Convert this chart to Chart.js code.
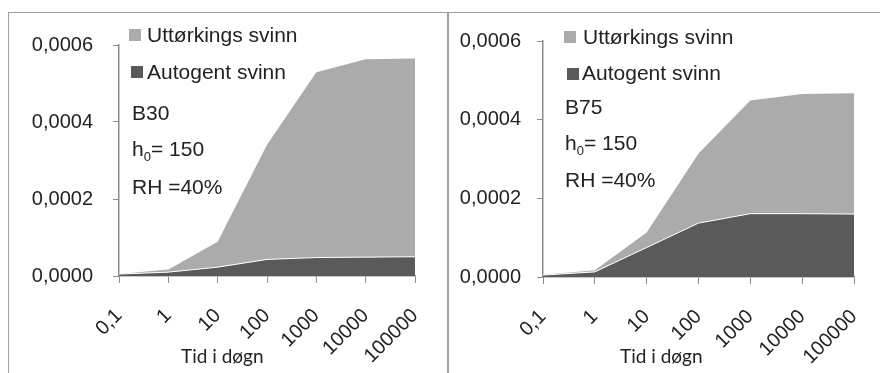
<!DOCTYPE html>
<html>
<head>
<meta charset="utf-8">
<script src="https://cdn.jsdelivr.net/npm/chart.js@4/dist/chart.umd.min.js"></script>
<style>
    body { margin: 0; background: #fff; width: 880px; height: 373px; overflow: hidden; position: relative; font-family: "Liberation Sans", Arial, sans-serif; }
    .panel { position: absolute; top: 12px; height: 361px; border-top: 1px solid #a0a0a0; }
    #panelLeft { left: 8px; width: 440px; border-left: 1px solid #a0a0a0; }
    #panelRight { left: 447px; width: 433px; border-left: 2px solid #a0a0a0; }
    canvas { position: absolute; top: 0; }
    .txt { position: absolute; color: #222; font-size: 21px; line-height: 22px; white-space: nowrap; }
    .sq { position: absolute; width: 12px; height: 12px; }
    .axtitle { position: absolute; font-family: Lato, "Open Sans", sans-serif; font-size: 19px; color: #222; white-space: nowrap; }
</style>
</head>
<body>
<div class="panel" id="panelLeft">
    <canvas id="chartB30" width="438" height="360"></canvas>
</div>
<div class="panel" id="panelRight">
    <canvas id="chartB75" width="431" height="360"></canvas>
</div>

<!-- legend and notes, left -->
<div class="sq" style="left:129px;top:29px;background:#ababab"></div>
<div class="txt" style="left:147px;top:24px">Uttørkings svinn</div>
<div class="sq" style="left:131px;top:66px;background:#5a5a5a"></div>
<div class="txt" style="left:147px;top:61px">Autogent svinn</div>
<div class="txt" style="left:132px;top:102px">B30</div>
<div class="txt" style="left:132px;top:138px">h<sub style="font-size:13px">0</sub>= 150</div>
<div class="txt" style="left:132px;top:176px">RH =40%</div>
<div class="axtitle" style="left:181px;top:344px">Tid i døgn</div>

<!-- legend and notes, right -->
<div class="sq" style="left:564px;top:31px;background:#ababab"></div>
<div class="txt" style="left:583px;top:26px">Uttørkings svinn</div>
<div class="sq" style="left:567px;top:68px;background:#5a5a5a"></div>
<div class="txt" style="left:582px;top:62px">Autogent svinn</div>
<div class="txt" style="left:565px;top:96px">B75</div>
<div class="txt" style="left:565px;top:132px">h<sub style="font-size:13px">0</sub>= 150</div>
<div class="txt" style="left:565px;top:169px">RH =40%</div>
<div class="axtitle" style="left:620px;top:344px">Tid i døgn</div>

<script>
// Tid i døgn (log steps)
const tidLabels = ['0,1', '1', '10', '100', '1000', '10000', '100000'];

// B30 - svinn per serie (stablet)
const b30Autogent = [0.000005, 0.000010, 0.000023, 0.000043, 0.000048, 0.000049, 0.000050];
const b30Uttorking = [0.000000, 0.000007, 0.000066, 0.000298, 0.000481, 0.000514, 0.000515];

// B75
const b75Autogent = [0.000005, 0.000013, 0.000075, 0.000137, 0.000161, 0.000161, 0.000160];
const b75Uttorking = [0.000001, 0.000004, 0.000038, 0.000177, 0.000288, 0.000304, 0.000307];

const yTicks = [0, 0.0002, 0.0004, 0.0006];

const lightGray = '#ababab';
const darkGray = '#5a5a5a';
const axisGray = '#8c8c8c';
const tickFont = { family: '"Liberation Sans", Arial, sans-serif', size: 20 };

function makeChart(id, autogent, uttorking, yWidth, yPad, xHeight, padRight) {
    const ctx = document.getElementById(id);
    return new Chart(ctx, {
        type: 'line',
        data: {
            labels: tidLabels,
            datasets: [
                {
                    label: 'Autogent svinn',
                    data: autogent,
                    backgroundColor: darkGray,
                    borderColor: '#ffffff',
                    borderWidth: 1,
                    fill: 'origin',
                    pointRadius: 0,
                    tension: 0
                },
                {
                    label: 'Uttørkings svinn',
                    data: uttorking,
                    backgroundColor: lightGray,
                    borderColor: lightGray,
                    borderWidth: 0,
                    fill: '-1',
                    pointRadius: 0,
                    tension: 0
                }
            ]
        },
        options: {
            responsive: false,
            animation: false,
            layout: { padding: { top: 15, right: padRight, bottom: 0, left: 0 } },
            plugins: {
                legend: { display: false },
                tooltip: { enabled: false }
            },
            scales: {
                x: {
                    offset: false,
                    grid: { display: true, drawOnChartArea: false, drawTicks: true, tickLength: 7, color: axisGray },
                    border: { display: true, color: axisGray, width: 1.5 },
                    ticks: {
                        autoSkip: false,
                        minRotation: 45,
                        maxRotation: 45,
                        padding: 21,
                        color: '#222',
                        font: tickFont
                    },
                    afterFit: function(scale) {
                        scale.height = xHeight;
                        // let the layout padding decide the side margins
                        scale.paddingLeft = 0;
                        scale.paddingRight = 0;
                    }
                },
                y: {
                    stacked: true,
                    min: 0,
                    max: 0.0006,
                    afterBuildTicks: function(scale) {
                        scale.ticks = yTicks.map(v => ({ value: v }));
                    },
                    grid: { display: true, drawOnChartArea: false, drawTicks: true, tickLength: 6, color: axisGray },
                    border: { display: true, color: axisGray, width: 1.5 },
                    ticks: {
                        padding: yPad,
                        color: '#222',
                        font: tickFont,
                        callback: function(value) { return value.toFixed(4).replace('.', ','); }
                    },
                    afterFit: function(scale) { scale.width = yWidth; }
                }
            }
        }
    });
}

makeChart('chartB30', b30Autogent, b30Uttorking, 110, 20, 97, 32);
makeChart('chartB75', b75Autogent, b75Uttorking, 94, 16, 96, 26);
</script>
</body>
</html>
